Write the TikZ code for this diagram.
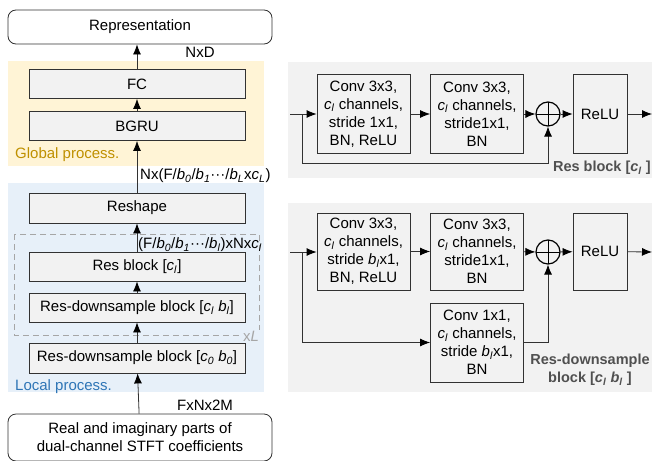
\documentclass[tikz,border=0pt]{standalone}
\usepackage{fontspec}
\setmainfont{Liberation Sans}
\usetikzlibrary{arrows.meta,positioning}
\definecolor{globalbg}{RGB}{255,244,214}
\definecolor{localbg}{RGB}{231,240,249}
\definecolor{panelbg}{RGB}{242,242,242}
\definecolor{boxfill}{RGB}{242,242,242}
\definecolor{boxline}{RGB}{50,50,50}
\definecolor{globaltxt}{RGB}{191,144,0}
\definecolor{localtxt}{RGB}{46,117,182}
\definecolor{lblgray}{RGB}{80,80,80}
\definecolor{dashgray}{RGB}{166,166,166}
\newcommand{\vsub}[2]{\textit{#1}\textsubscript{\textit{#2}}}

\begin{document}
\begin{tikzpicture}[x=1pt, y=-1pt,
      >={Latex[length=10pt,width=8pt,color=black]},   %arrow tips
      font=\fontsize{15}{18}\selectfont,
      layer/.style={draw=boxline, fill=boxfill, line width=0.8pt, minimum width=216pt, minimum height=29pt, inner sep=0pt},
      io/.style={draw=boxline, fill=white, line width=0.8pt, rounded corners=8pt, minimum width=264pt, inner sep=0pt, align=center},
      unit/.style={draw=boxline, fill=boxfill, line width=0.8pt, minimum width=93pt, minimum height=79pt, inner sep=0pt, align=center},
      sum/.style={circle, draw=black, line width=1.2pt, minimum size=24pt, inner sep=0pt,
        path picture={\draw[line width=0.8pt] (path picture bounding box.north) -- (path picture bounding box.south)
          (path picture bounding box.west) -- (path picture bounding box.east);}},
      link/.style={->, draw=boxline, line width=0.8pt},
      blocklbl/.style={text=lblgray, font=\fontsize{14.5}{18}\selectfont\bfseries}]
  \useasboundingbox (0,0) rectangle (652,460);
  %backgrounds
  \fill[globalbg] (8,61) rectangle (264,166);
  \fill[localbg] (8,183) rectangle (264,392);
  \fill[panelbg] (288,62) rectangle (652,178);
  \fill[panelbg] (288,203) rectangle (652,392);
  \draw[draw=dashgray, line width=0.8pt, dash pattern=on 6pt off 4pt] (14,234) rectangle (259,335);

  %left column
  \node[io, minimum height=34pt] (repr) at (140,27) {Representation};
  \node[layer] (fc) at (137,84) {FC};
  \node[layer] (bgru) at (137,126) {BGRU};
  \node[layer, minimum height=30pt] (reshape) at (137,208) {Reshape};
  \node[layer] (resblk) at (137,266.5) {Res block [\vsub{c}{l}]};
  \node[layer] (downl) at (137,307.5) {Res-downsample block [\vsub{c}{l} \vsub{b}{l}]};
  \node[layer, minimum height=30pt] (down0) at (137,358) {Res-downsample block [\vsub{c}{0} \vsub{b}{0}]};
  \node[io, minimum height=47pt] (input) at (140,437.5) {Real and imaginary parts of\\dual-channel STFT coefficients};

  %labels
  \node[text=globaltxt, anchor=west, inner sep=0pt] (globallbl) at (15,155) {Global process.};
  \node[text=localtxt, anchor=west, inner sep=0pt] (locallbl) at (15,387) {Local process.};
  \node[inner sep=0pt] (dimout) at (200,52) {NxD};
  \node[anchor=west, inner sep=0pt] (dimglob) at (140,176) {Nx(F/\textit{b}\textsubscript{\textit{0}}/\textit{b}\textsubscript{\textit{1}}\textperiodcentered\textperiodcentered\textperiodcentered/\vsub{b}{L}x\vsub{c}{L})};
  \node[anchor=west, inner sep=0pt] (dimloc) at (138,245) {(F/\textit{b}\textsubscript{\textit{0}}/\textit{b}\textsubscript{\textit{1}}\textperiodcentered\textperiodcentered\textperiodcentered/\vsub{b}{l})xNx\vsub{c}{l}};
  \node[text=dashgray, fill=localbg, inner sep=1pt] (repeat) at (251,336) {x\textit{L}};
  \node[inner sep=0pt] (dimin) at (205,405) {FxNx2M};

  %left arrows
  \draw[link] (input) -- (down0);
  \draw[link] (down0) -- (downl);
  \draw[link] (downl) -- (resblk);
  \draw[link] (resblk) -- (reshape);
  \draw[link] (reshape) -- (bgru);
  \draw[link] (bgru) -- (fc);
  \draw[link] (fc) -- (fc |- repr.south);

  %res block
  \coordinate (rin) at (290,114);
  \coordinate (rsplit) at (302,114);
  \coordinate (rout) at (652,114);
  \node[unit] (rconv1) at (363.5,114) {Conv 3x3,\\\vsub{c}{l} channels,\\stride 1x1,\\BN, ReLU};
  \node[unit] (rconv2) at (477,114) {Conv 3x3,\\\vsub{c}{l} channels,\\stride1x1,\\BN};
  \node[sum] (rsum) at (548,114) {};
  \node[unit, minimum width=54pt] (rrelu) at (600,114) {ReLU};
  \coordinate (rskip) at (548,163);
  \draw[draw=boxline, line width=0.8pt] (rin) -- (rsplit);
  \draw[link] (rsplit) -- (rconv1);
  \draw[link] (rconv1) -- (rconv2);
  \draw[link] (rconv2) -- (rsum);
  \draw[link] (rsum) -- (rrelu);
  \draw[link] (rrelu) -- (rout);
  \draw[link] (rsplit) |- (rskip) -- (rsum.south);
  \node[blocklbl, anchor=east, inner sep=0pt] (rlbl) at (651,168) {Res block [\vsub{c}{l} ]};

  %res-downsample block
  \coordinate (din) at (290,252);
  \coordinate (dsplit) at (302,252);
  \coordinate (dout) at (652,252);
  \node[unit, minimum height=77pt] (dconv1) at (363.5,251.5) {Conv 3x3,\\\vsub{c}{l} channels,\\stride \vsub{b}{l}x1,\\BN, ReLU};
  \node[unit, minimum height=77pt] (dconv2) at (477,251.5) {Conv 3x3,\\\vsub{c}{l} channels,\\stride1x1,\\BN};
  \node[sum] (dsum) at (548,252) {};
  \node[unit, minimum width=54pt, minimum height=77pt] (drelu) at (600,251.5) {ReLU};
  \node[unit] (dconv3) at (477,342.5) {Conv 1x1,\\\vsub{c}{l} channels,\\stride \vsub{b}{l}x1,\\BN};
  \draw[draw=boxline, line width=0.8pt] (din) -- (dsplit);
  \draw[link] (dsplit) -- (dsplit -| dconv1.west);
  \draw[link] (dconv1) -- (dconv2);
  \draw[link] (dconv2) -- (dsum);
  \draw[link] (dsum) -- (drelu);
  \draw[link] (drelu) -- (dout);
  \draw[link] (dsplit) |- (dconv3.west);
  \draw[link] (dconv3.east) -| (dsum.south);
  \node[blocklbl, align=center, inner sep=0pt] (dlbl) at (590,370) {Res-downsample\\block [\vsub{c}{l} \vsub{b}{l} ]};
\end{tikzpicture}
\end{document}
